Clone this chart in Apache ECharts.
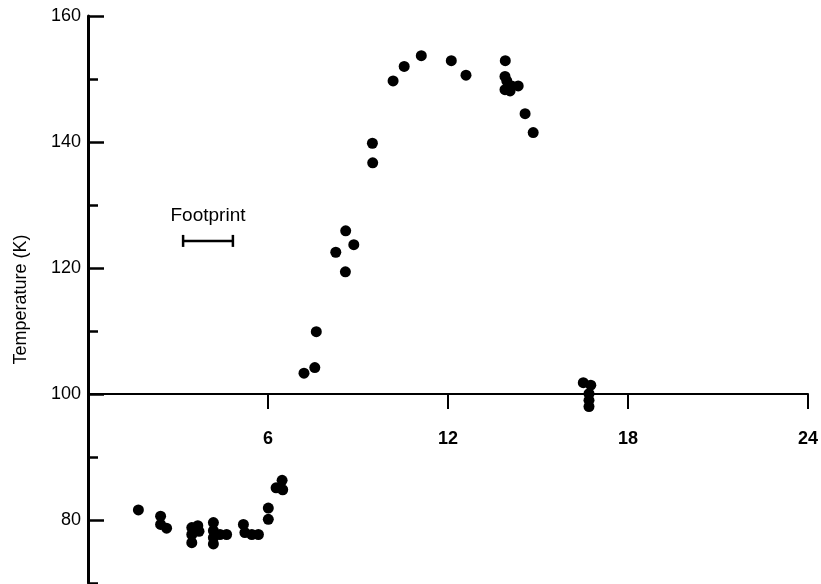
<!DOCTYPE html>
<html>
<head>
<meta charset="utf-8">
<title>Temperature vs local time</title>
<script src="https://cdn.jsdelivr.net/npm/echarts@6/dist/echarts.min.js"></script>
<style>
  html, body { margin: 0; padding: 0; background: #fff; }
  #chart { width: 821px; height: 584px; }
</style>
</head>
<body>
<div id="chart"></div>
<script>
// 观测点：横坐标（小时）和温度（K）
const hours = [
  1.68, 2.42, 2.42, 2.62,
  3.46, 3.66, 3.46, 3.46, 3.70,
  4.18, 4.18, 4.18, 4.18, 4.40, 4.62,
  5.18, 5.23, 5.46, 5.68,
  6.01, 6.01, 6.27, 6.47, 6.49,
  7.20, 7.56, 7.61, 8.26, 8.58, 8.59, 8.86, 9.48, 9.49,
  10.17, 10.54, 11.11, 12.11, 12.60,
  13.91, 13.90, 13.96, 13.90, 14.07, 14.12, 14.34, 14.57, 14.84,
  16.51, 16.76, 16.70, 16.70, 16.70
]
const temps = [
  81.6, 80.6, 79.3, 78.7,
  78.8, 79.1, 77.7, 76.4, 78.2,
  79.6, 78.3, 77.2, 76.2, 77.7, 77.7,
  79.3, 78.0, 77.7, 77.7,
  81.9, 80.1, 85.1, 86.3, 84.8,
  103.3, 104.2, 109.9, 122.5, 119.4, 125.9, 123.7, 139.8, 136.7,
  149.7, 152.0, 153.7, 152.9, 150.6,
  152.9, 150.4, 149.7, 148.3, 148.1, 148.9, 148.9, 144.5, 141.5,
  101.8, 101.4, 100.05, 99.0, 98.0
]

// 刻度
const xTicks = [6, 12, 18, 24]
const yMajorTicks = [80, 100, 120, 140, 160]
const yMinorTicks = [70, 90, 110, 130, 150]

// Footprint 标注
const footprintSpan = [3.17, 4.83]
const footprintTemp = 124.3

const points = hours.map((h, i) => [h, temps[i]])

const chart = echarts.init(document.getElementById('chart'))

const axisFont = { fontFamily: 'Liberation Sans', fontSize: 18, color: '#000' }

const option = {
  animation: false,
  grid: { left: 88, right: 13, top: 16, bottom: 1 },
  xAxis: {
    type: 'value',
    min: 0,
    max: 24,
    interval: 6,
    position: 'bottom',
    offset: -189,
    splitLine: { show: false },
    axisLine: { lineStyle: { color: '#000', width: 2 } },
    axisTick: {
      customValues: xTicks,
      length: 15,
      lineStyle: { color: '#000', width: 2 }
    },
    axisLabel: {
      customValues: xTicks,
      margin: 36,
      fontWeight: 'bold',
      ...axisFont
    }
  },
  yAxis: [
    {
      type: 'value',
      min: 70,
      max: 160,
      interval: 10,
      position: 'left',
      name: 'Temperature (K)',
      nameLocation: 'middle',
      nameGap: 58,
      nameTextStyle: { fontFamily: 'Liberation Sans', fontSize: 18, color: '#000' },
      splitLine: { show: false },
      axisLine: { lineStyle: { color: '#000', width: 3 } },
      axisTick: {
        inside: true,
        customValues: yMajorTicks,
        length: 16,
        lineStyle: { color: '#000', width: 2.5 }
      },
      axisLabel: {
        customValues: yMajorTicks,
        margin: 7,
        ...axisFont
      }
    },
    {
      // 次刻度
      type: 'value',
      min: 70,
      max: 160,
      interval: 10,
      position: 'left',
      splitLine: { show: false },
      axisLine: { show: false },
      axisLabel: { show: false },
      axisTick: {
        inside: true,
        customValues: yMinorTicks,
        length: 10,
        lineStyle: { color: '#000', width: 2.5 }
      }
    }
  ],
  series: [
    {
      type: 'scatter',
      data: points,
      symbol: 'circle',
      symbolSize: 11,
      itemStyle: { color: '#000', opacity: 1 },
      emphasis: { disabled: true }
    },
    {
      type: 'custom',
      data: [[footprintSpan[0], footprintSpan[1], footprintTemp]],
      renderItem: (params, api) => {
        const a = api.coord([api.value(0), api.value(2)])
        const b = api.coord([api.value(1), api.value(2)])
        const style = { stroke: '#000', lineWidth: 2.5 }
        return {
          type: 'group',
          children: [
            { type: 'line', shape: { x1: a[0], y1: a[1], x2: b[0], y2: b[1] }, style },
            { type: 'line', shape: { x1: a[0], y1: a[1] - 6, x2: a[0], y2: a[1] + 6 }, style },
            { type: 'line', shape: { x1: b[0], y1: b[1] - 6, x2: b[0], y2: b[1] + 6 }, style },
            {
              type: 'text',
              x: (a[0] + b[0]) / 2,
              y: a[1] - 25,
              style: {
                text: 'Footprint',
                fontFamily: 'Liberation Sans',
                fontSize: 19,
                fill: '#000',
                align: 'center',
                verticalAlign: 'middle'
              }
            }
          ]
        }
      }
    }
  ]
}

chart.setOption(option)
</script>
</body>
</html>
